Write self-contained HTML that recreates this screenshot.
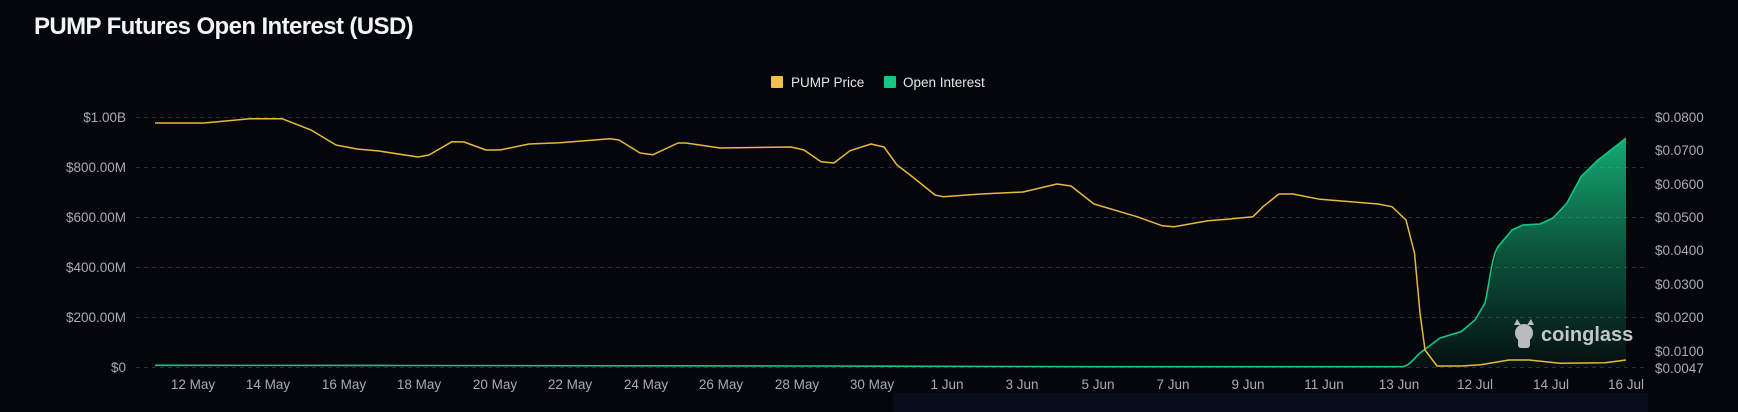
<!DOCTYPE html>
<html><head><meta charset="utf-8"><style>
html,body{margin:0;padding:0;background:#04060b;}
body{width:1738px;height:412px;overflow:hidden;position:relative;font-family:"Liberation Sans",sans-serif;}
</style></head><body>
<svg width="1738" height="412" xmlns="http://www.w3.org/2000/svg" style="position:absolute;left:0;top:0">
<defs>
<linearGradient id="g" gradientUnits="userSpaceOnUse" x1="0" y1="138" x2="0" y2="368">
<stop offset="0" stop-color="#16c784" stop-opacity="0.85"/>
<stop offset="0.5" stop-color="#16c784" stop-opacity="0.4"/>
<stop offset="1" stop-color="#16c784" stop-opacity="0.05"/>
</linearGradient>
</defs>
<rect x="893" y="393" width="755" height="19" fill="#070d1a"/>
<text x="34" y="34" font-size="24" font-weight="bold" fill="#f2f3f5" letter-spacing="-0.6">PUMP Futures Open Interest (USD)</text>
<rect x="771" y="76" width="12" height="12" fill="#f0c04b" rx="1"/>
<text x="791" y="87" font-size="13.5" fill="#e6e6e6">PUMP Price</text>
<rect x="884" y="76" width="12" height="12" fill="#16c784" rx="1"/>
<text x="903" y="87" font-size="13.5" fill="#e6e6e6">Open Interest</text>
<g stroke="#2b2e35" stroke-dasharray="4,4" stroke-width="1">
<line x1="136" y1="117.5" x2="1644" y2="117.5"/>
<line x1="136" y1="167.5" x2="1644" y2="167.5"/>
<line x1="136" y1="217.5" x2="1644" y2="217.5"/>
<line x1="136" y1="267.5" x2="1644" y2="267.5"/>
<line x1="136" y1="317.5" x2="1644" y2="317.5"/>
<line x1="136" y1="367.5" x2="1644" y2="367.5"/>
</g>
<g font-size="13.5" fill="#a9abb0" text-anchor="end">
<text x="126" y="122">$1.00B</text>
<text x="126" y="172">$800.00M</text>
<text x="126" y="222">$600.00M</text>
<text x="126" y="272">$400.00M</text>
<text x="126" y="322">$200.00M</text>
<text x="126" y="372">$0</text>
</g>
<g font-size="13.5" fill="#a9abb0">
<text x="1655" y="122">$0.0800</text>
<text x="1655" y="155">$0.0700</text>
<text x="1655" y="189">$0.0600</text>
<text x="1655" y="222">$0.0500</text>
<text x="1655" y="255">$0.0400</text>
<text x="1655" y="289">$0.0300</text>
<text x="1655" y="322">$0.0200</text>
<text x="1655" y="356">$0.0100</text>
<text x="1655" y="373">$0.0047</text>
</g>
<g font-size="13.5" fill="#a9abb0" text-anchor="middle">
<text x="193" y="389">12 May</text>
<text x="268" y="389">14 May</text>
<text x="344" y="389">16 May</text>
<text x="419" y="389">18 May</text>
<text x="495" y="389">20 May</text>
<text x="570" y="389">22 May</text>
<text x="646" y="389">24 May</text>
<text x="721" y="389">26 May</text>
<text x="797" y="389">28 May</text>
<text x="872" y="389">30 May</text>
<text x="947" y="389">1 Jun</text>
<text x="1022" y="389">3 Jun</text>
<text x="1098" y="389">5 Jun</text>
<text x="1173" y="389">7 Jun</text>
<text x="1248" y="389">9 Jun</text>
<text x="1324" y="389">11 Jun</text>
<text x="1399" y="389">13 Jun</text>
<text x="1475" y="389">12 Jul</text>
<text x="1551" y="389">14 Jul</text>
<text x="1626" y="389">16 Jul</text>
</g>
<path d="M1402,366.7 L1420,353 L1440,338 L1461,331.7 L1475,320 L1485,303 L1498,246.7 L1512,230 L1523,225 L1540,224 L1553,218 L1567,203 L1581,176.7 L1598,160 L1626,138.3 L1626,367.5 L1402,367.5 Z" fill="url(#g)"/>
<path d="M155,365.3 L400,365.5 L800,366 L1100,366.7 L1402,366.7 C1410,366 1414,358 1420,353 L1440,338 L1461,331.7 L1475,320 L1485,303 C1490,280 1492,256 1498,246.7 L1512,230 L1523,225 L1540,224 L1553,218 L1567,203 L1581,176.7 L1598,160 L1626,138.3" fill="none" stroke="#16c784" stroke-width="1.6" stroke-linejoin="round"/>
<path d="M155,123 L204,123 L250,118.7 L282,118.7 L311,130 L336,145 L357,149 L379,151 L418,157 L429,155 L452,141.7 L464,142 L486,150 L500,150 L529,144 L560,142.7 L610,138.7 L619,140 L640,153 L653,154.7 L678,143 L686,143 L720,148 L791,147 L804,150 L821,161.7 L834,163 L850,150.7 L871,144 L884,147 L897,165 L914,178 L935,195 L943,196.7 L981,194 L1023,192 L1057,184 L1071,186 L1094,204 L1137,216.7 L1162,225.7 L1174,226.7 L1208,220.7 L1227,219.3 L1253,216.7 L1263,206.7 L1279,194 L1293,194 L1320,199.3 L1354,202 L1378,204 L1392,206.7 L1406,220 L1414.5,253 L1420,313 L1425,350 L1437,366 L1461,366 L1481,364.7 L1509,360 L1529,360 L1560,363.3 L1605,362.7 L1626,360" fill="none" stroke="#e8b93f" stroke-width="1.5" stroke-linejoin="round"/>
<g fill="#b9bcbf">
<circle cx="1524" cy="333" r="9"/>
<rect x="1518" y="338" width="12" height="10" rx="3"/>
<path d="M1514,325 L1517,319 L1521,325 Z M1527,325 L1531,319 L1534,325 Z"/>
</g>
<text x="1541" y="341" font-size="20" font-weight="bold" fill="#c4c6c8">coinglass</text>
</svg>
</body></html>
